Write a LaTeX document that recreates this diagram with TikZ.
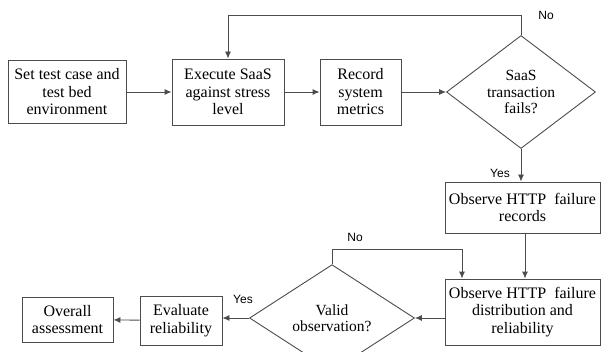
\documentclass[tikz,border=0pt]{standalone}
\usepackage{fontspec}
\setmainfont{Liberation Serif}
\newfontfamily\labelfont{Liberation Sans}
\usetikzlibrary{shapes.geometric,arrows.meta}

\tikzset{
  box/.style={draw=black!70, line width=0.9pt, align=center, inner sep=2pt,
    font=\fontsize{16}{17.5}\selectfont},
  decision/.style={diamond, draw=black!70, line width=0.9pt, align=center,
    inner sep=0pt, font=\fontsize{15.5}{16.5}\selectfont},
  yesno/.style={font=\labelfont\fontsize{12}{14}\selectfont}
}

\begin{document}
\begin{tikzpicture}[x=1pt, y=-1pt, line width=0.9pt, draw=black!70,
    >={Latex[length=7pt,width=6pt]}]
  \useasboundingbox (0,0) rectangle (601,352);

  \node[box, minimum width=118pt, minimum height=63pt] (a) at (67,92) {Set test case and\\test bed\\environment};
  \node[box, minimum width=112pt, minimum height=66pt] (b) at (228,92) {Execute SaaS\\against stress\\level};
  \node[box, minimum width=81pt, minimum height=66pt] (c) at (360.5,92) {Record\\system\\metrics};
  \node[decision, minimum width=149pt, minimum height=113pt] (d) at (521,92) {SaaS\\transaction\\fails?};
  \node[box, minimum width=155pt, minimum height=51pt] (e) at (522.5,207.5) {Observe HTTP\ \ failure\\records};
  \node[box, minimum width=155pt, minimum height=66pt] (f) at (522.5,312) {Observe HTTP\ \ failure\\distribution and\\reliability};
  \node[decision, minimum width=165pt, minimum height=78pt] (g) at (332,318) {Valid\\observation?};
  \node[box, minimum width=82pt, minimum height=49pt] (h) at (181,320.5) {Evaluate\\reliability};
  \node[box, minimum width=91pt, minimum height=45pt] (i) at (67.5,319.5) {Overall\\assessment};

  \coordinate (p) at (521,15);
  \coordinate (q) at (462,249);

  \node[yesno] (n1) at (546,15) {No};
  \node[yesno] (y1) at (500,173) {Yes};
  \node[yesno] (n2) at (355,237) {No};
  \node[yesno] (y2) at (243,299) {Yes};

  \draw [->] (a) -- (b);
  \draw [->] (b) -- (c);
  \draw [->] (c.east) -- (d.west);
  \draw [->] (d.north) -- (p) -| (b.north);
  \draw [->] (d.south) -- (e.north -| d.south);
  \draw [->] (e.south -| 525,0) -- (f.north -| 525,0);
  \draw [->] (f.west |- g.east) -- (g.east);
  \draw [->] (g.north) |- (q) -- (q |- f.north);
  \draw [->] (g.west) -- (g.west -| h.east);
  \draw [->] (h) -- (i);
\end{tikzpicture}
\end{document}
